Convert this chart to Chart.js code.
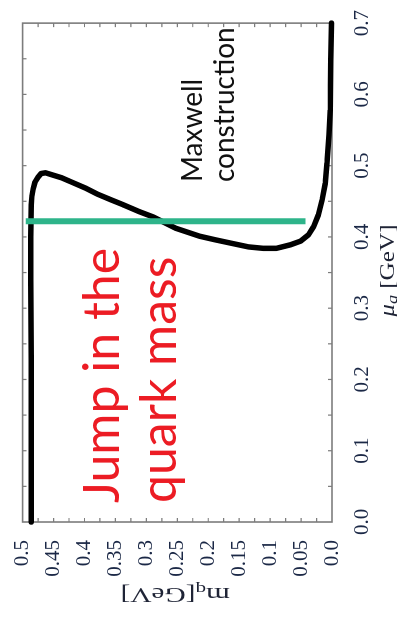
<!DOCTYPE html>
<html>
<head>
<meta charset="utf-8">
<script src="https://cdn.jsdelivr.net/npm/chart.js@4.4.1/dist/chart.umd.min.js"></script>
<style>
  html, body { margin: 0; padding: 0; background: #fff; overflow: hidden; width: 397px; height: 633px; }
  /* the figure is laid out landscape and turned a quarter turn counter-clockwise */
  #wrap { position: absolute; left: 0; top: 0; width: 633px; height: 397px;
          transform-origin: 0 0; transform: translateY(633px) rotate(-90deg); }
</style>
</head>
<body>
<div id="wrap"><canvas id="c" width="633" height="397"></canvas></div>
<script>
// Constituent quark mass m_q as a function of quark chemical potential mu_q (GeV),
// listed along the curve (the solution is multivalued in mu_q).
const muGeV = [0.000, 0.115, 0.227, 0.339, 0.400, 0.445, 0.457, 0.467, 0.477, 0.484,
               0.489, 0.490, 0.487, 0.483, 0.477, 0.468, 0.460, 0.452, 0.445, 0.436,
               0.428, 0.412, 0.401, 0.396, 0.391, 0.386, 0.384, 0.384, 0.389, 0.394,
               0.403, 0.414, 0.431, 0.452, 0.475, 0.504, 0.543, 0.578, 0.648, 0.700];
const massGeV = [0.486, 0.486, 0.486, 0.487, 0.487, 0.486, 0.485, 0.483, 0.480, 0.475,
                 0.470, 0.463, 0.452, 0.437, 0.421, 0.397, 0.379, 0.357, 0.337, 0.313,
                 0.289, 0.252, 0.214, 0.189, 0.162, 0.135, 0.111, 0.090, 0.067, 0.051,
                 0.038, 0.030, 0.022, 0.016, 0.011, 0.008, 0.005, 0.003, 0.002, 0.001];

// Maxwell construction: vertical cut at the transition chemical potential
const maxwellMu = [0.422, 0.422];
const maxwellMass = [0.043, 0.495];

// Axis ticks
const muTickValues = [0, 0.1, 0.2, 0.3, 0.4, 0.5, 0.6, 0.7];
const muTickLabels = ['0.0', '0.1', '0.2', '0.3', '0.4', '0.5', '0.6', '0.7'];
const massTickValues = [0, 0.05, 0.1, 0.15, 0.2, 0.25, 0.3, 0.35, 0.4, 0.45, 0.5];
const massTickLabels = ['0.0', '0.05', '0.1', '0.15', '0.2', '0.25', '0.3', '0.35', '0.4', '0.45', '0.5'];
const muMinorStep = 0.05;
const massMinorStep = 0.025;

const tickColor = '#1b2846';
const serif = "'Liberation Serif', 'Times New Roman', serif";

// Closed frame with small inward ticks on all four sides
const framePlugin = {
  id: 'frame',
  beforeDatasetsDraw(chart) {
    const { ctx, chartArea: a, scales: { x, y } } = chart;
    ctx.save();
    ctx.strokeStyle = '#7c7c7c';
    ctx.lineWidth = 1.6;
    ctx.strokeRect(a.left, a.top, a.right - a.left, a.bottom - a.top);
    ctx.lineWidth = 1.2;
    ctx.beginPath();
    const nMu = Math.round((x.max - x.min) / muMinorStep);
    for (let i = 1; i < nMu; i++) {
      const px = x.getPixelForValue(x.min + i * muMinorStep);
      ctx.moveTo(px, a.bottom); ctx.lineTo(px, a.bottom - 4);
      ctx.moveTo(px, a.top); ctx.lineTo(px, a.top + 4);
    }
    const nM = Math.round((y.max - y.min) / massMinorStep);
    for (let i = 1; i < nM; i++) {
      const py = y.getPixelForValue(y.min + i * massMinorStep);
      ctx.moveTo(a.left, py); ctx.lineTo(a.left + 4, py);
      ctx.moveTo(a.right, py); ctx.lineTo(a.right - 4, py);
    }
    ctx.stroke();
    ctx.restore();
  }
};

// Draws a run of text pieces (with subscripts) centred on the current origin
function drawPieces(ctx, pieces, stretch) {
  let total = 0;
  pieces.forEach(p => { ctx.font = p.font; p.w = ctx.measureText(p.t).width; total += p.w; });
  ctx.scale(stretch, 1);
  let cx = -total / 2;
  pieces.forEach(p => {
    ctx.font = p.font;
    ctx.fillText(p.t, cx, p.dy || 0);
    cx += p.w;
  });
}

const labelsPlugin = {
  id: 'labels',
  afterDraw(chart) {
    const { ctx, chartArea: a, scales: { x, y } } = chart;
    ctx.save();
    // axis titles
    ctx.fillStyle = '#1f2436';
    ctx.textBaseline = 'middle';
    ctx.textAlign = 'left';
    ctx.save();
    ctx.translate((a.left + a.right) / 2 + 2, 388);
    drawPieces(ctx, [
      { t: 'μ', font: 'italic 21px ' + serif },
      { t: 'q', font: 'italic 15px ' + serif, dy: 5 },
      { t: ' [GeV]', font: '21px ' + serif }
    ], 1.2);
    ctx.restore();
    ctx.save();
    ctx.translate(39, (a.top + a.bottom) / 2 - 2);
    ctx.rotate(-Math.PI / 2);
    drawPieces(ctx, [
      { t: 'm', font: '22px ' + serif },
      { t: 'q', font: '15px ' + serif, dy: 5 },
      { t: '[GeV]', font: '21px ' + serif }
    ], 1.4);
    ctx.restore();

    // annotations
    ctx.textBaseline = 'alphabetic';
    ctx.fillStyle = '#111';
    ctx.font = '28px Lato, "Open Sans", sans-serif';
    const mx = x.getPixelForValue(0.477);
    ctx.fillText('Maxwell', mx, y.getPixelForValue(0.2095));
    ctx.fillText('construction', mx, y.getPixelForValue(0.159));

    ctx.fillStyle = '#ec1c24';
    ctx.font = '50px Lato, "Open Sans", sans-serif';
    const jx = x.getPixelForValue(0.0266);
    ctx.fillText('Jump in the', jx, y.getPixelForValue(0.344));
    ctx.fillText('quark mass', jx, y.getPixelForValue(0.252));
    ctx.restore();
  }
};

new Chart(document.getElementById('c'), {
  type: 'scatter',
  data: {
    datasets: [
      {
        label: 'Maxwell construction',
        data: maxwellMu.map((v, i) => ({ x: v, y: maxwellMass[i] })),
        showLine: true,
        borderColor: '#2eb48a',
        borderWidth: 6,
        borderCapStyle: 'butt',
        pointRadius: 0,
        order: 0,
        clip: false
      },
      {
        label: 'm_q',
        data: muGeV.map((v, i) => ({ x: v, y: massGeV[i] })),
        showLine: true,
        borderColor: '#000',
        borderWidth: 5.5,
        borderCapStyle: 'round',
        borderJoinStyle: 'round',
        tension: 0,
        pointRadius: 0,
        order: 1,
        clip: false
      }
    ]
  },
  options: {
    responsive: false,
    animation: false,
    events: [],
    layout: { autoPadding: false, padding: { top: 17, right: 23, left: 0, bottom: 0 } },
    plugins: { legend: { display: false }, tooltip: { enabled: false } },
    scales: {
      x: {
        type: 'linear', position: 'bottom', min: 0, max: 0.7,
        grid: { display: false }, border: { display: false },
        afterBuildTicks: s => { s.ticks = muTickValues.map(v => ({ value: v })); },
        afterFit: s => { s.height = 65; },
        ticks: {
          autoSkip: false, maxRotation: 0, padding: 10, color: tickColor,
          font: { family: serif, size: 21 },
          callback: (v, i) => muTickLabels[i]
        }
      },
      y: {
        type: 'linear', position: 'left', min: 0, max: 0.5,
        grid: { display: false }, border: { display: false },
        afterBuildTicks: s => { s.ticks = massTickValues.map(v => ({ value: v })); },
        afterFit: s => { s.width = 111; },
        ticks: {
          autoSkip: false, padding: 10, color: tickColor,
          font: { family: serif, size: 21 },
          callback: (v, i) => massTickLabels[i]
        }
      }
    }
  },
  plugins: [framePlugin, labelsPlugin]
});
</script>
</body>
</html>
